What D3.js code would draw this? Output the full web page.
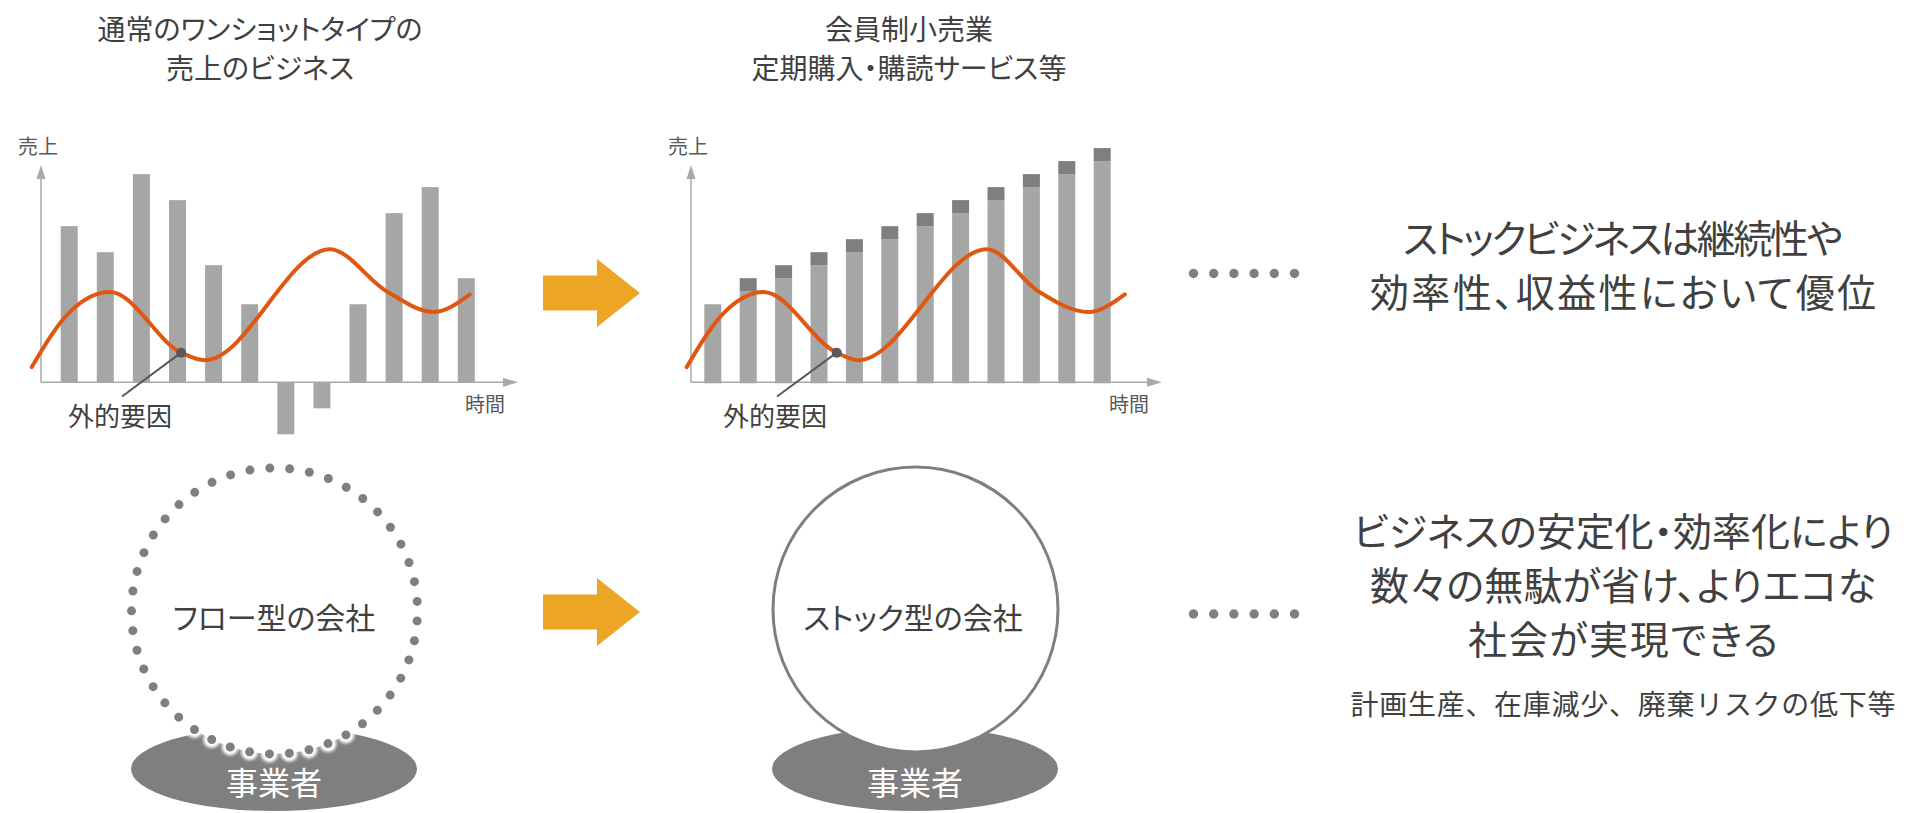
<!DOCTYPE html>
<html><head><meta charset="utf-8">
<script src="https://cdn.jsdelivr.net/npm/d3@7"></script>
<style>
html,body{margin:0;padding:0;background:#fff;overflow:hidden;}
svg text{font-family:"Noto Sans CJK JP","Noto Sans",sans-serif;font-feature-settings:"palt";}
svg text.full{font-feature-settings:normal;}
</style></head><body>
<svg id="chart" width="1906" height="813"></svg>
<script>
// ---- data ----
// periods on the time axis
const periods = [0, 1, 2, 3, 4, 5, 6, 7, 8, 9, 10, 11];
// one-shot (flow) business: sales per period
const flowSales = [6, 5, 8, 7, 4.5, 3, -2, -1, 3, 6.5, 7.5, 4];
// subscription (stock) business: recurring base plus newly added sales
const stockBase = [3, 3.5, 4, 4.5, 5, 5.5, 6, 6.5, 7, 7.5, 8, 8.5];
const stockAdded = [0, 0.5, 0.5, 0.5, 0.5, 0.5, 0.5, 0.5, 0.5, 0.5, 0.5, 0.5];
// external factor curve (same swing in both charts)
const factorValues = [0.58, 2.68, 3.47, 1.14, 0.85, 5.11, 3.5, 2.7, 3.38];
const flowFactorTime = [-1.04, 0, 1.13, 3.1, 3.76, 7.22, 8.79, 10.09, 11.1];
const stockFactorTime = [-0.74, 0.32, 1.43, 3.5, 4.11, 7.74, 9.19, 10.61, 11.64];
const factorMarkIndex = 3;

// ---- text ----
const titleFlow = ["通常のワンショットタイプの", "売上のビジネス"];
const titleStock = ["会員制小売業", "定期購入・購読サービス等"];
const axisYLabel = "売上";
const axisXLabel = "時間";
const factorLabel = "外的要因";
const companyFlow = "フロー型の会社";
const companyStock = "ストック型の会社";
const ownerLabel = "事業者";
const summaryTop = ["ストックビジネスは継続性や", "効率性、収益性において優位"];
const summaryBottom = ["ビジネスの安定化・効率化により", "数々の無駄が省け、よりエコな", "社会が実現できる"];
const summaryNote = "計画生産、在庫減少、廃棄リスクの低下等";

// ---- style ----
const C = {
  text: "#404040", axis: "#A8A8A8", bar: "#A6A6A6", barTop: "#7F7F7F",
  line: "#E05712", mark: "#595959", arrow: "#EDA526", ring: "#7F7F7F", base: "#7F7F7F"
};

const svg = d3.select("#chart");

function drawChart(cfg) {
  const g = svg.append("g");
  const x = d3.scaleLinear().domain([0, 11]).range(cfg.xRange);
  const y = d3.scaleLinear().domain([0, 8.35]).range([cfg.baseY, cfg.topY]);
  const bw = 17;

  // bars
  if (cfg.kind === "flow") {
    g.selectAll("rect.bar").data(periods).join("rect")
      .attr("x", i => x(i) - bw / 2)
      .attr("y", i => Math.min(y(flowSales[i]), y(0)))
      .attr("width", bw)
      .attr("height", i => Math.abs(y(flowSales[i]) - y(0)))
      .attr("fill", C.bar);
  } else {
    g.selectAll("rect.base").data(periods).join("rect")
      .attr("x", i => x(i) - bw / 2)
      .attr("y", i => y(stockBase[i]))
      .attr("width", bw)
      .attr("height", i => y(0) - y(stockBase[i]) + 1)
      .attr("fill", C.bar);
    g.selectAll("rect.add").data(periods.filter(i => stockAdded[i] > 0)).join("rect")
      .attr("x", i => x(i) - bw / 2)
      .attr("y", i => y(stockBase[i] + stockAdded[i]))
      .attr("width", bw)
      .attr("height", i => y(stockBase[i]) - y(stockBase[i] + stockAdded[i]))
      .attr("fill", C.barTop);
  }

  // axes with arrow heads
  g.append("line").attr("x1", cfg.axisX).attr("x2", cfg.axisX)
    .attr("y1", y(0)).attr("y2", cfg.topY + 12)
    .attr("stroke", C.axis).attr("stroke-width", 1.5);
  g.append("path")
    .attr("d", `M${cfg.axisX},${cfg.topY} L${cfg.axisX + 4.5},${cfg.topY + 14} L${cfg.axisX - 4.5},${cfg.topY + 14} Z`)
    .attr("fill", C.axis);
  g.append("line").attr("x1", cfg.axisX).attr("x2", cfg.xEnd - 12)
    .attr("y1", y(0)).attr("y2", y(0))
    .attr("stroke", C.axis).attr("stroke-width", 1.5);
  g.append("path")
    .attr("d", `M${cfg.xEnd},${y(0)} L${cfg.xEnd - 15},${y(0) - 4.5} L${cfg.xEnd - 15},${y(0) + 4.5} Z`)
    .attr("fill", C.axis);

  // axis captions
  g.append("text").attr("x", cfg.axisX - 3).attr("y", 153.5)
    .attr("text-anchor", "middle").attr("font-size", 20).attr("fill", "#595959").text(axisYLabel);
  g.append("text").attr("x", cfg.xEnd - 33).attr("y", 412)
    .attr("text-anchor", "middle").attr("font-size", 20).attr("fill", "#595959").text(axisXLabel);

  // external factor curve
  const pts = factorValues.map((v, i) => ({ t: cfg.factorTime[i], v }));
  const line = d3.line().x(d => x(d.t)).y(d => y(d.v)).curve(d3.curveMonotoneX);
  g.append("path").datum(pts).attr("d", line)
    .attr("fill", "none").attr("stroke", C.line).attr("stroke-width", 4)
    .attr("stroke-linecap", "round");

  // marker + leader to its caption
  const m = pts[factorMarkIndex];
  g.append("line")
    .attr("x1", x(m.t)).attr("y1", y(m.v))
    .attr("x2", cfg.factorLabelX + 2).attr("y2", 396.5)
    .attr("stroke", C.mark).attr("stroke-width", 2);
  g.append("circle").attr("cx", x(m.t)).attr("cy", y(m.v)).attr("r", 5).attr("fill", C.mark);
  g.append("text").attr("x", cfg.factorLabelX).attr("y", 426)
    .attr("text-anchor", "middle").attr("font-size", 26).attr("fill", C.text).text(factorLabel);

  // title, one text per line
  cfg.title.forEach((s, i) =>
    g.append("text").attr("x", cfg.titleX).attr("y", 40 + i * 39)
      .attr("text-anchor", "middle").attr("font-size", 28).attr("fill", C.text).text(s));
}

drawChart({
  kind: "flow", axisX: 41, xEnd: 518, baseY: 382.3, topY: 165,
  xRange: [69.2, 466.3], factorTime: flowFactorTime, factorLabelX: 120,
  title: titleFlow, titleX: 260
});
drawChart({
  kind: "stock", axisX: 691, xEnd: 1162, baseY: 382.3, topY: 165,
  xRange: [712.8, 1102.2], factorTime: stockFactorTime, factorLabelX: 775,
  title: titleStock, titleX: 909
});

// big orange arrows
function bigArrow(cy) {
  svg.append("path")
    .attr("d", `M543,${cy - 17.5} L597,${cy - 17.5} L597,${cy - 34} L640,${cy} L597,${cy + 34} L597,${cy + 17.5} L543,${cy + 17.5} Z`)
    .attr("fill", C.arrow);
}
bigArrow(293);
bigArrow(612);

// ellipsis dots
function dotRow(cy) {
  const xs = d3.range(6).map(i => 1193.5 + i * 20.2);
  svg.append("g").selectAll("circle").data(xs).join("circle")
    .attr("cx", d => d).attr("cy", cy).attr("r", 4.7).attr("fill", "#7F7F7F");
}
dotRow(273.5);
dotRow(614);

// companies standing on their owners
const defs = svg.append("defs");
defs.append("filter").attr("id", "soft").attr("x", "-20%").attr("y", "-20%").attr("width", "140%").attr("height", "140%")
  .append("feGaussianBlur").attr("stdDeviation", 1.4);

function owner(cx) {
  svg.append("ellipse").attr("cx", cx).attr("cy", 769).attr("rx", 143).attr("ry", 42).attr("fill", C.base);
  svg.append("text").attr("x", cx).attr("y", 795).attr("text-anchor", "middle")
    .attr("font-size", 32).attr("fill", "#fff").text(ownerLabel);
}
owner(274);
owner(915);

// flow company: dotted ring
{
  const cx = 274.5, cy = 611, r = 143, n = 45;
  const step = 2 * Math.PI * r / n;
  svg.append("circle").attr("cx", cx).attr("cy", cy).attr("r", r).attr("fill", "#fff");
  svg.append("circle").attr("cx", cx).attr("cy", cy).attr("r", r).attr("fill", "none")
    .attr("stroke", "#fff").attr("stroke-width", 17).attr("stroke-linecap", "round")
    .attr("stroke-dasharray", `0 ${step}`).attr("stroke-dashoffset", step / 2)
    .attr("filter", "url(#soft)");
  svg.append("circle").attr("cx", cx).attr("cy", cy).attr("r", r).attr("fill", "none")
    .attr("stroke", C.ring).attr("stroke-width", 9).attr("stroke-linecap", "round")
    .attr("stroke-dasharray", `0 ${step}`).attr("stroke-dashoffset", step / 2);
  svg.append("text").attr("x", 274).attr("y", 629).attr("text-anchor", "middle")
    .attr("font-size", 30).attr("fill", C.text).text(companyFlow);
}
// stock company: solid ring
{
  svg.append("circle").attr("cx", 915.5).attr("cy", 609.5).attr("r", 142.5)
    .attr("fill", "#fff").attr("stroke", C.ring).attr("stroke-width", 3);
  svg.append("text").attr("x", 913).attr("y", 629).attr("text-anchor", "middle")
    .attr("font-size", 30).attr("fill", C.text).text(companyStock);
}

// summary texts: one text element per line, fitted to the set widths
function summaryLine(s, y, size, width, cls) {
  svg.append("text").attr("class", cls || null).attr("x", 1623).attr("y", y).attr("text-anchor", "middle")
    .attr("font-size", size).attr("fill", C.text)
    .attr("textLength", width).attr("lengthAdjust", "spacing").text(s);
}
summaryLine(summaryTop[0], 253, 39, 440);
summaryLine(summaryTop[1], 307, 39, 506);
summaryLine(summaryBottom[0], 546, 39, 540);
summaryLine(summaryBottom[1], 600, 39, 506);
summaryLine(summaryBottom[2], 654, 39, 310);
summaryLine(summaryNote, 715, 28, 545, "full");
</script>
</body></html>
